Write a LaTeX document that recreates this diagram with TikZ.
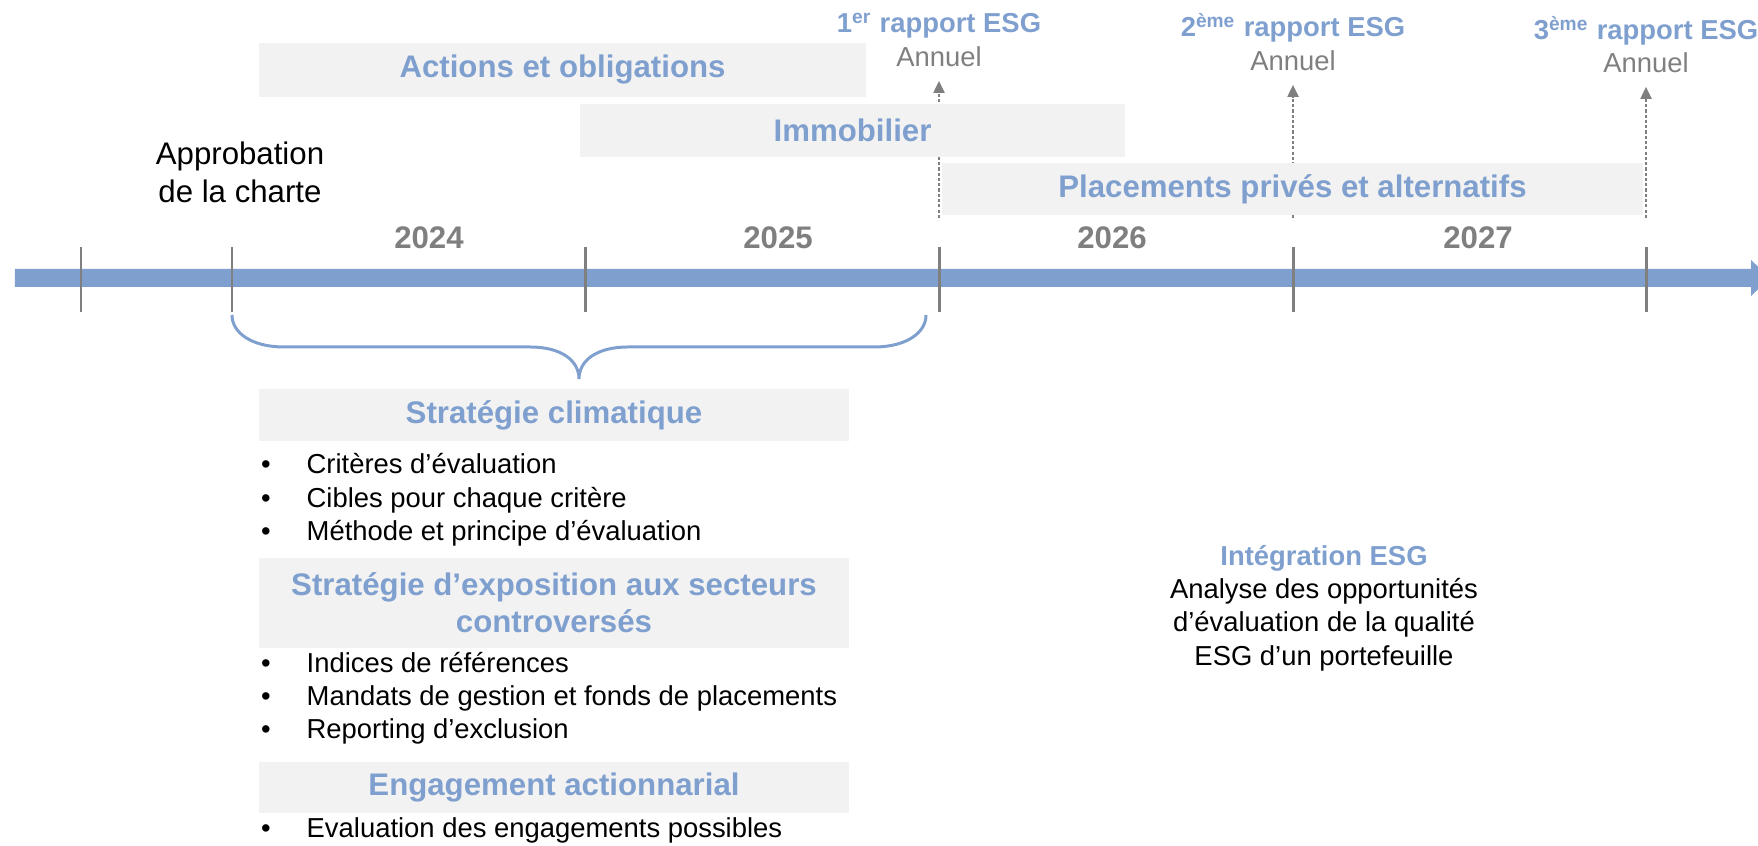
\documentclass[tikz,border=0pt]{standalone}
\usepackage{fontspec}
\setmainfont{Liberation Sans}
\usetikzlibrary{arrows.meta}

\definecolor{esgblue}{RGB}{127,160,207}
\definecolor{tickgray}{RGB}{127,127,127}
\definecolor{boxgray}{RGB}{242,242,242}

\newcommand{\hdfont}{\fontsize{8.88}{10.6}\selectfont}
\newcommand{\txfont}{\fontsize{7.8}{9.25}\selectfont}

\tikzset{
    heading/.style={fill=boxgray, text=esgblue, font=\hdfont\bfseries, inner sep=0pt, align=center},
    year/.style={text=tickgray, font=\hdfont\bfseries, anchor=base, inner sep=0pt},
    report/.style={text=esgblue, font=\txfont\bfseries, anchor=base, inner sep=0pt},
    freq/.style={text=tickgray, font=\txfont, anchor=base, inner sep=0pt},
    item/.style={font=\txfont, anchor=base west, inner sep=0pt},
    puce/.style={font=\txfont, anchor=base, inner sep=0pt},
    tick/.style={draw=tickgray, line width=0.85pt},
    pointer/.style={draw=tickgray, line width=0.4pt, dash pattern=on 0.9pt off 0.6pt,
        -{Triangle[width=3.2pt,length=3.4pt]}, shorten >=0.13cm},
}

\begin{document}
\begin{tikzpicture}
        \useasboundingbox (0,0) rectangle (17.58,8.46);
        \clip (0,0) rectangle (17.58,8.46);

        % Time axis
        \fill[esgblue] (0.15,5.59) -- (17.51,5.59) -- (17.51,5.50) -- (17.70,5.68)
            -- (17.51,5.86) -- (17.51,5.77) -- (0.15,5.77) -- cycle;

        % Ticks
        \foreach \x [count=\i] in {0.81,2.32,5.85,9.39,12.93,16.46}{
            \draw[tick] (\x,5.99) -- (\x,5.34);
            \coordinate (d\i) at (\x,6.28);
        }

        % Years
        \foreach \x/\label in {4.29/2024, 7.78/2025, 11.12/2026, 14.78/2027}{
            \node[year] (y\label) at (\x,5.97) {\label};
        }

        % Reports
        \node[report] (r1) at (9.39,8.13) {1\textsuperscript{er} rapport ESG};
        \node[freq] (f1) at (9.39,7.79) {Annuel};
        \node[report] (r2) at (12.93,8.09) {2\textsuperscript{ème} rapport ESG};
        \node[freq] (f2) at (12.93,7.75) {Annuel};
        \node[report] (r3) at (16.46,8.06) {3\textsuperscript{ème} rapport ESG};
        \node[freq] (f3) at (16.46,7.73) {Annuel};

        \draw[pointer] (d4) -- (f1.south);
        \draw[pointer] (d5) -- (f2.south);
        \draw[pointer] (d6) -- (f3.south);

        % Asset classes
        \node[heading, minimum width=6.07cm, minimum height=0.54cm] (actions) at (5.625,7.76) {Actions et obligations};
        \node[heading, minimum width=5.45cm, minimum height=0.53cm] (immo) at (8.525,7.155) {Immobilier};
        \node[heading, minimum width=7.01cm, minimum height=0.52cm] (prives) at (12.925,6.57) {Placements privés et alternatifs};

        \node[font=\fontsize{8.88}{10.8}\selectfont, align=center, inner sep=0pt] (charte) at (2.40,6.74) {Approbation\\de la charte};

        % Brace
        \draw[esgblue, line width=0.85pt] (2.32,5.31) .. controls (2.32,5.13) and (2.52,4.99) .. (2.84,4.99)
            -- (5.30,4.99) .. controls (5.62,4.99) and (5.79,4.85) .. (5.79,4.67)
            .. controls (5.79,4.85) and (5.96,4.99) .. (6.28,4.99)
            -- (8.74,4.99) .. controls (9.06,4.99) and (9.26,5.13) .. (9.26,5.31);

        % Strategies
        \node[heading, minimum width=5.90cm, minimum height=0.52cm] (climat) at (5.54,4.31) {Stratégie climatique};
        \foreach \y/\label [count=\i] in {3.72/Critères d’évaluation, 3.38/Cibles pour chaque critère, 3.05/Méthode et principe d’évaluation}{
            \node[puce] (cp\i) at (2.66,\y) {•};
            \node[item] (ci\i) at (3.06,\y) {\label};
        }

        \node[heading, minimum width=5.90cm, minimum height=0.90cm] (expo) at (5.54,2.43) {Stratégie d’exposition aux secteurs\\controversés};
        \foreach \y/\label [count=\i] in {1.73/Indices de références, 1.40/Mandats de gestion et fonds de placements, 1.07/Reporting d’exclusion}{
            \node[puce] (ep\i) at (2.66,\y) {•};
            \node[item] (ei\i) at (3.06,\y) {\label};
        }

        \node[heading, minimum width=5.90cm, minimum height=0.51cm] (engage) at (5.54,0.58) {Engagement actionnarial};
        \node[puce] (gp1) at (2.66,0.08) {•};
        \node[item] (gi1) at (3.06,0.08) {Evaluation des engagements possibles};

        % ESG integration
        \node[font=\fontsize{7.8}{9.5}\selectfont, align=center, inner sep=0pt] (integ) at (13.24,2.38)
            {\textcolor{esgblue}{\bfseries Intégration ESG}\\Analyse des opportunités\\d’évaluation de la qualité\\ESG d’un portefeuille};

\end{tikzpicture}
\end{document}
